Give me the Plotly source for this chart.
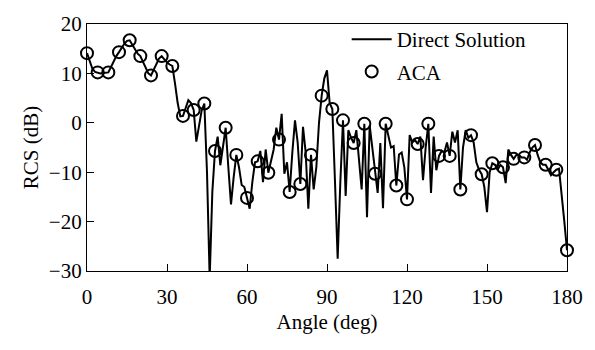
import plotly.graph_objects as go

# Direct solution sampled every 1 degree
direct_angle = list(range(0, 181))
direct_rcs = [
    14.1, 12.5, 11.0, 10.3, 10.2, 10.0, 10.1, 10.2, 10.2, 11.3,   # 0-9
    12.5, 13.5, 14.3, 15.2, 16.0, 16.6, 16.7, 15.8, 14.8, 14.0,   # 10-19
    13.5, 12.2, 11.0, 10.0, 9.6, 10.8, 12.0, 13.0, 13.5, 12.8,    # 20-29
    12.2, 11.8, 11.5, 8.0, 4.0, 1.3, 1.4, 3.0, 4.6, 4.0,          # 30-39
    2.6, -3.8, -1.0, 2.5, 3.9, -10.0, -31.5, -14.0, -5.7, -2.8,   # 40-49
    -8.6, -5.0, -1.0, -9.0, -16.5, -11.0, -6.5, -9.0, -12.6, -13.0,  # 50-59
    -15.2, -17.4, -12.0, -8.0, -7.8, -5.7, -12.0, -5.4, -10.1, -8.0,  # 60-69
    -5.4, -1.0, -3.4, 1.8, -10.3, -8.0, -14.0, -6.0, 0.5, -4.0,   # 70-79
    -12.4, -0.8, -6.0, -17.4, -6.5, -13.5, -9.0, 0.0, 5.5, 9.0,   # 80-89
    10.6, 4.0, 2.8, -12.0, -27.5, -12.0, 0.5, -14.8, -1.5, -3.0,  # 90-99
    -4.1, -1.5, -8.0, -13.5, -0.2, -19.1, -0.5, -5.0, -10.3, -14.2,  # 100-109
    -4.1, -17.3, -0.2, -2.8, -5.0, -4.7, -12.7, -6.4, -6.0, -9.0,  # 110-119
    -15.5, -2.5, -4.0, -3.5, -4.3, -2.8, -11.6, -5.0, -0.2, -14.2,  # 120-129
    -2.8, -9.6, -6.7, -5.7, -6.0, -4.0, -6.7, -1.8, -4.0, -1.5,   # 130-139
    -13.5, -5.0, -1.5, -3.0, -2.5, -4.0, -8.0, -9.5, -10.4, -13.0,  # 140-149
    -18.1, -10.0, -8.2, -8.5, -9.5, -8.5, -9.0, -12.2, -5.4, -6.5,  # 150-159
    -7.3, -6.5, -6.5, -7.0, -7.0, -7.5, -6.0, -5.0, -4.5, -6.5,   # 160-169
    -8.0, -8.5, -8.5, -9.5, -10.6, -10.0, -9.5, -9.3, -14.0, -20.0,  # 170-179
    -25.8,                                                         # 180
]

# ACA samples every 4 degrees
aca_angle = list(range(0, 181, 4))
aca_rcs = [
    14.1, 10.2, 10.2, 14.3, 16.7, 13.5, 9.6, 13.5, 11.5, 1.4,
    2.6, 3.9, -5.7, -1.0, -6.5, -15.2, -7.8, -10.1, -3.4, -14.0,
    -12.4, -6.5, 5.5, 2.8, 0.5, -4.1, -0.2, -10.3, -0.2, -12.7,
    -15.5, -4.3, -0.2, -6.7, -6.7, -13.5, -2.5, -10.4, -8.2, -9.0,
    -7.3, -7.0, -4.5, -8.5, -9.5, -25.8,
]

x_ticks = [0, 30, 60, 90, 120, 150, 180]
y_ticks = [-30, -20, -10, 0, 10, 20]

FONT = "Liberation Serif, Times New Roman, serif"
FS = 21

fig = go.Figure()
fig.add_trace(go.Scatter(
    x=direct_angle, y=direct_rcs, mode="lines", name="Direct Solution",
    line=dict(color="black", width=2), cliponaxis=False, legendgroup="a",
))
fig.add_trace(go.Scatter(
    x=aca_angle, y=aca_rcs, mode="markers", name="ACA",
    marker=dict(symbol="circle-open", size=12, color="black",
                line=dict(color="black", width=2)),
    cliponaxis=False, legendgroup="b",
))

axis_common = dict(
    showgrid=False, zeroline=False, showline=True, linecolor="black",
    linewidth=1.2, mirror=True, ticks="inside", ticklen=7, tickwidth=1,
    tickcolor="black", tickfont=dict(family=FONT, size=FS, color="black"),
)

fig.update_xaxes(range=[0, 180], tickvals=x_ticks, ticklabelstandoff=7,
                 title=dict(text="Angle (deg)", font=dict(family=FONT, size=FS, color="black"),
                            standoff=6),
                 **axis_common)
fig.update_yaxes(range=[-30, 20], tickvals=y_ticks,
                 title=dict(text="RCS (dB)", font=dict(family=FONT, size=FS, color="black"),
                            standoff=4),
                 **axis_common)

fig.update_layout(
    width=595, height=350,
    margin=dict(l=87, r=27, t=15, b=79),
    paper_bgcolor="white", plot_bgcolor="white",
    font=dict(family=FONT, size=FS, color="black"),
    showlegend=True,
    legend=dict(x=0.541, y=1.02, xanchor="left", yanchor="top",
                bgcolor="rgba(0,0,0,0)", borderwidth=0,
                font=dict(family=FONT, size=FS, color="black"),
                tracegroupgap=2, itemwidth=40),
)

fig.write_html("out.html")
